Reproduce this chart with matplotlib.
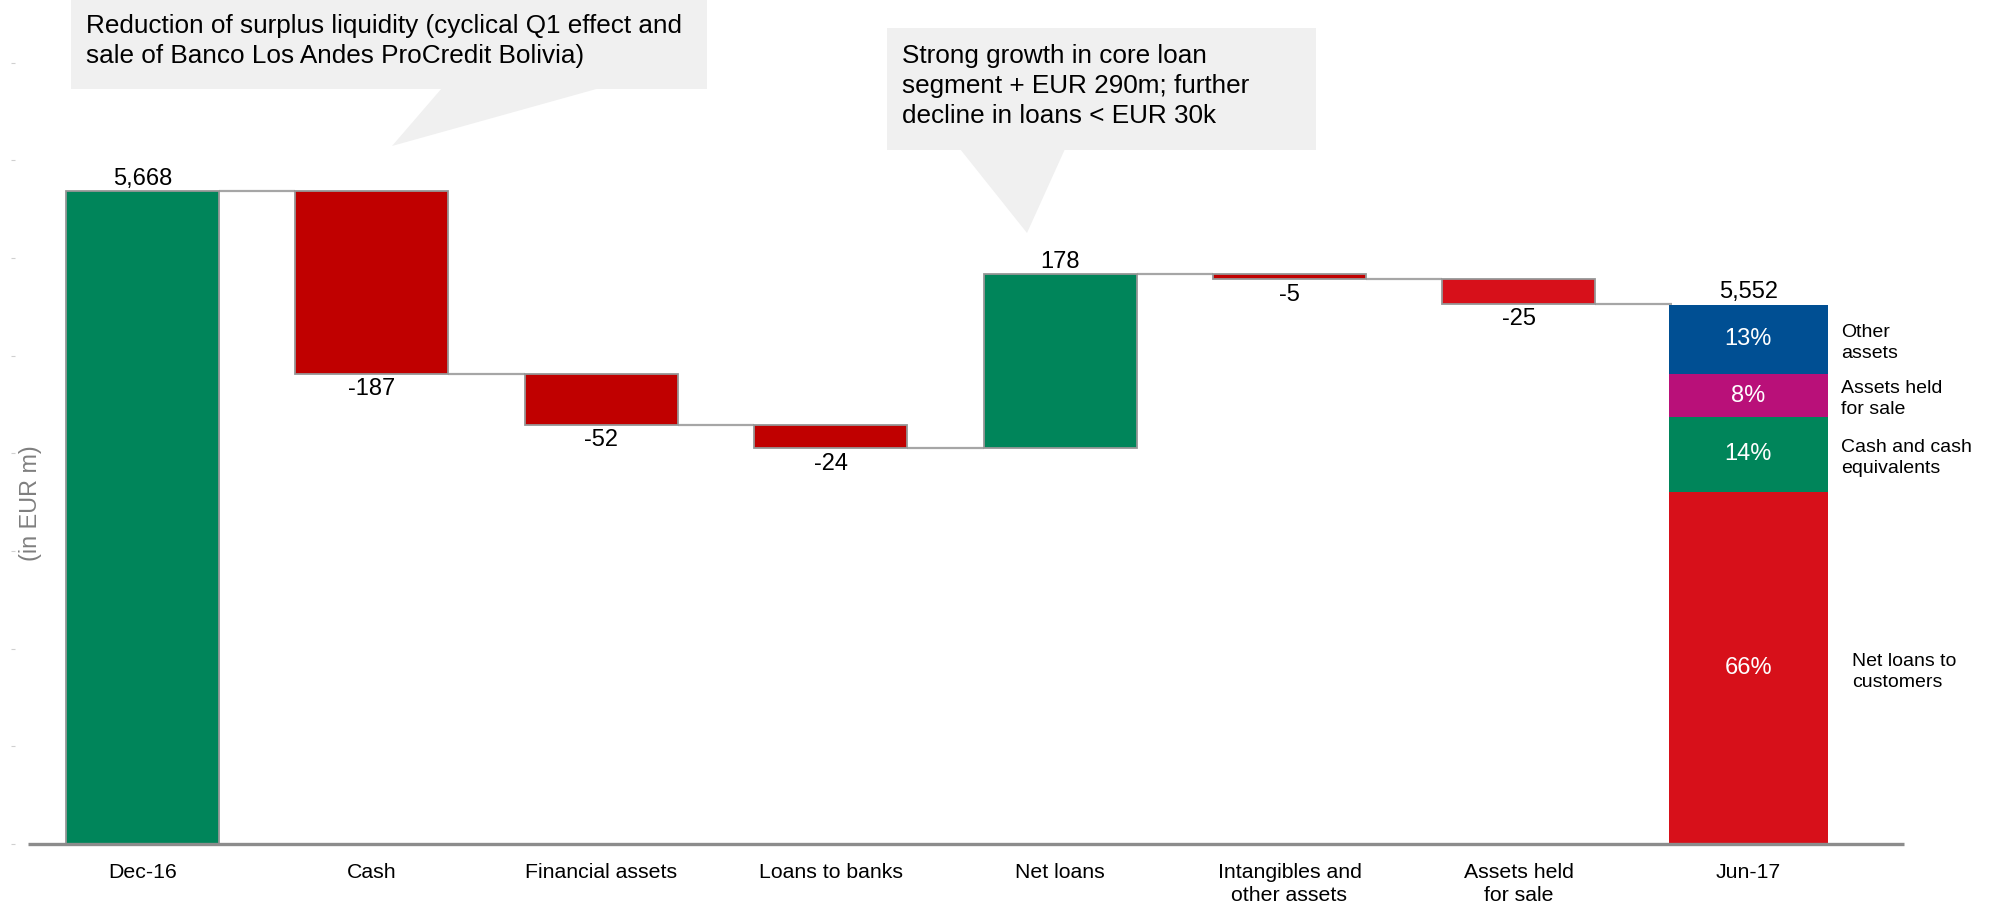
import numpy as np
import matplotlib.pyplot as plt
from matplotlib.patches import Polygon

plt.rcParams["font.family"] = ["Liberation Sans", "DejaVu Sans"]

# waterfall data (EUR m)
categories = ["Dec-16", "Cash", "Financial assets", "Loans to banks", "Net loans",
              "Intangibles and\nother assets", "Assets held\nfor sale", "Jun-17"]
start_value = 5668
changes = [-187, -52, -24, 178, -5, -25]
end_value = 5552

# composition of the Jun-17 total (bottom to top)
mix_labels = ["Net loans to\ncustomers", "Cash and cash\nequivalents", "Assets held\nfor sale", "Other\nassets"]
mix_shares = [66, 14, 8, 13]

callout_left = "Reduction of surplus liquidity (cyclical Q1 effect and\nsale of Banco Los Andes ProCredit Bolivia)"
callout_right = "Strong growth in core loan\nsegment + EUR 290m; further\ndecline in loans < EUR 30k"

GREEN = "#00855A"
DARK_RED = "#C00000"
RED = "#D7101A"
BLUE = "#004F93"
MAGENTA = "#B91079"
EDGE = "#969696"
BOX = "#F0F0F0"

change_colors = [DARK_RED, DARK_RED, DARK_RED, GREEN, DARK_RED, RED]
mix_colors = [RED, GREEN, MAGENTA, BLUE]

W, H = 1997, 907
axis_floor = 5000  # broken axis: bars start here

fig = plt.figure(figsize=(W / 100, H / 100), dpi=100)
ax = fig.add_axes([11 / W, (H - 844) / H, (1904 - 11) / W, 844 / H])
ax.set_xlim(-0.573, 7.679)
ax.set_ylim(axis_floor, 5864)

bar_w = 0.667
x = np.arange(len(categories))

# opening bar
ax.bar(x[0], start_value - axis_floor, bottom=axis_floor, width=bar_w,
       color=GREEN, edgecolor=EDGE, linewidth=1.3, zorder=3)
ax.annotate(f"{start_value:,}", (x[0], start_value), xytext=(0, 1), textcoords="offset points",
            ha="center", va="bottom", fontsize=17)

# movements
level = start_value
levels = [level]
for i, d in enumerate(changes):
    xi = x[i + 1]
    bottom = level + min(d, 0)
    ax.bar(xi, abs(d), bottom=bottom, width=bar_w, color=change_colors[i],
           edgecolor=EDGE, linewidth=1.3, zorder=3)
    if d < 0:
        ax.annotate(f"{d:,}", (xi, bottom), xytext=(0, -3), textcoords="offset points",
                    ha="center", va="top", fontsize=17)
    else:
        ax.annotate(f"{d:,}", (xi, level + d), xytext=(0, 1), textcoords="offset points",
                    ha="center", va="bottom", fontsize=17)
    level += d
    levels.append(level)
levels.append(end_value)

# connectors between consecutive bars
for i in range(len(categories) - 1):
    ax.plot([x[i] + bar_w / 2, x[i + 1] - bar_w / 2], [levels[i], levels[i]],
            color="#A6A6A6", lw=1.6, zorder=2, solid_capstyle="butt")

# closing bar split by composition
shares = np.array(mix_shares, dtype=float) / sum(mix_shares)
span = end_value - axis_floor
seg_bottom = axis_floor
mix_w = 0.693
for lab, sh, pct, col in zip(mix_labels, shares, mix_shares, mix_colors):
    h = sh * span
    ax.bar(x[-1], h, bottom=seg_bottom, width=mix_w, color=col, linewidth=0, zorder=3)
    mid = seg_bottom + h / 2
    ax.text(x[-1], mid, f"{pct}%", ha="center", va="center", color="white", fontsize=17, zorder=4)
    lx = 7.452 if lab.startswith("Net loans") else 7.404
    ax.text(lx, mid - 4, lab, ha="left", va="center", fontsize=14,
            linespacing=1.3, clip_on=False)
    seg_bottom += h
ax.annotate(f"{end_value:,}", (x[-1], end_value), xytext=(0, 1), textcoords="offset points",
            ha="center", va="bottom", fontsize=17)

# axes styling
for s in ax.spines.values():
    s.set_visible(False)
ax.plot([-0.499, 7.679], [axis_floor, axis_floor], color="#8C8C8C", lw=2.4,
        clip_on=False, zorder=5, solid_capstyle="butt")
ax.set_xticks(x)
ax.set_xticklabels(categories, fontsize=15.3, linespacing=1.25)
ax.tick_params(axis="x", length=0, pad=14)
ax.set_yticks(np.arange(5000, 5801, 100))
ax.set_yticklabels([])
ax.tick_params(axis="y", length=3, width=0.8, color="#D0D0D0", direction="in")

fig.text(30 / W, 1 - 503 / H, "(in EUR m)", rotation=90, ha="center", va="center",
         fontsize=16.8, color="#7F7F7F")


def px(a, b):
    return (a / W, 1 - b / H)


# callout boxes with pointers
for box, tri in [
    ([(71, 0), (707, 0), (707, 89), (71, 89)], [(442, 88), (600, 88), (392, 146)]),
    ([(887, 28), (1316, 28), (1316, 150), (887, 150)], [(960, 149), (1065, 149), (1027, 233)]),
]:
    fig.patches.append(Polygon([px(*p) for p in box], closed=True, facecolor=BOX,
                               edgecolor="none", transform=fig.transFigure, zorder=6))
    fig.patches.append(Polygon([px(*p) for p in tri], closed=True, facecolor=BOX,
                               edgecolor="none", transform=fig.transFigure, zorder=6))

fig.text(*px(86, 14), callout_left, ha="left", va="top", fontsize=18.8, linespacing=1.32, zorder=7)
fig.text(*px(902, 44), callout_right, ha="left", va="top", fontsize=18.8, linespacing=1.32, zorder=7)

fig.savefig("out.png", dpi=100)
